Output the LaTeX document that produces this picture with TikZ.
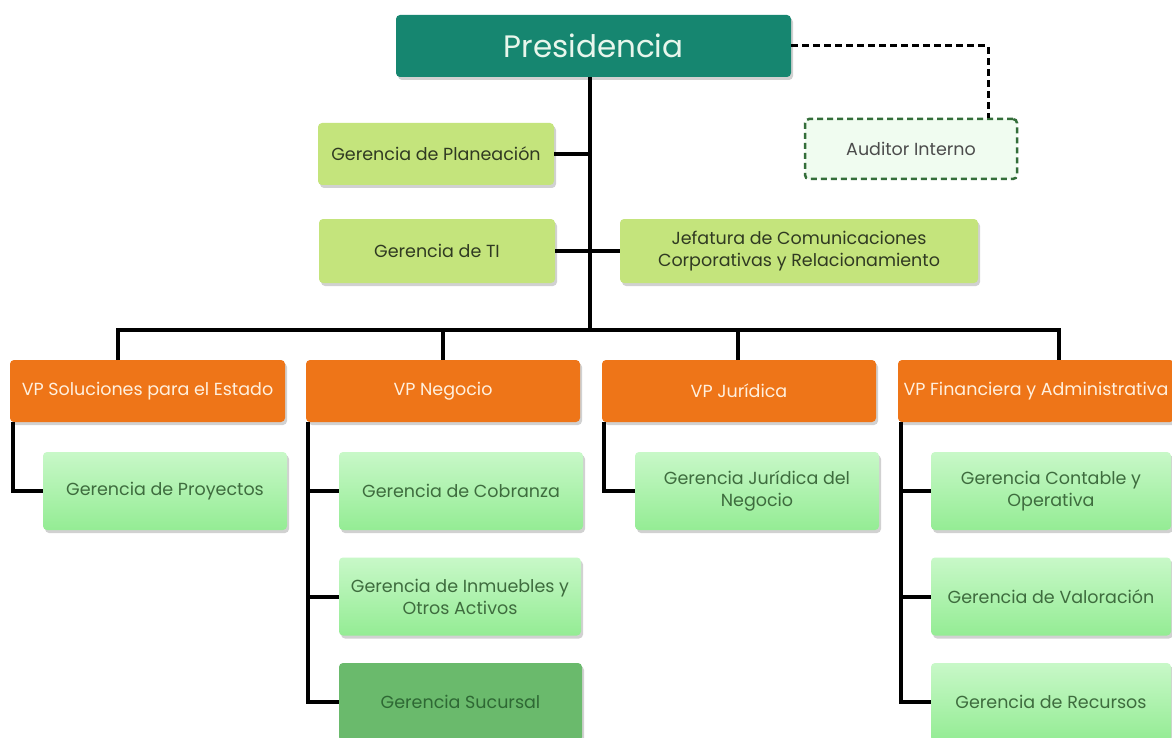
\documentclass[tikz,border=0pt]{standalone}
\usepackage{fontspec}
\setmainfont{Poppins}
\usetikzlibrary{shadows}
\definecolor{presfill}{RGB}{22,134,112}
\definecolor{prestext}{RGB}{232,246,236}
\definecolor{stafffill}{RGB}{196,228,124}
\definecolor{stafftext}{RGB}{48,58,34}
\definecolor{audfill}{RGB}{240,252,240}
\definecolor{auddraw}{RGB}{52,110,58}
\definecolor{vpfill}{RGB}{238,117,24}
\definecolor{vptext}{RGB}{255,240,222}
\definecolor{subtop}{RGB}{200,248,200}
\definecolor{subbot}{RGB}{148,236,148}
\definecolor{subtext}{RGB}{62,108,62}
\definecolor{sucfill}{RGB}{106,186,108}
\definecolor{suctext}{RGB}{46,104,52}
\tikzset{
  lbl/.style={font=\fontsize{17.5}{22}\selectfont},
  box/.style={rounded corners=4pt, inner sep=1pt, align=center, lbl,
    drop shadow={shadow xshift=2pt, shadow yshift=-3pt, opacity=0.18, fill=black}},
  presbox/.style={box, fill=presfill, text=prestext, font=\fontsize{31}{36}\selectfont},
  staffbox/.style={box, fill=stafffill, text=stafftext},
  audbox/.style={rounded corners=4pt, fill=audfill, draw=auddraw, line width=2.5pt, dash pattern=on 6pt off 4pt, text=black!70, lbl, align=center},
  vpbox/.style={box, fill=vpfill, text=vptext},
  subbox/.style={box, top color=subtop, bottom color=subbot, text=subtext},
  sucbox/.style={box, fill=sucfill, text=suctext},
  conn/.style={line width=4pt, black},
  dashconn/.style={line width=3pt, black, dash pattern=on 7pt off 4pt},
}
\begin{document}
\begin{tikzpicture}[x=1pt,y=-1pt]
\useasboundingbox[fill=white] (0,0) rectangle (1172,738);
% top
\node[presbox, minimum width=395pt, minimum height=62pt] (pres) at (593.5,46) {Presidencia};
\node[audbox, minimum width=212pt, minimum height=60pt] (aud) at (911,149) {Auditor Interno};
\node[staffbox, minimum width=236pt, minimum height=62pt] (plan) at (436,154) {Gerencia de Planeación};
\node[staffbox, minimum width=236pt, minimum height=64pt] (ti) at (437,251) {Gerencia de TI};
\node[staffbox, minimum width=358pt, minimum height=64pt] (jef) at (799,251) {Jefatura de Comunicaciones\\Corporativas y Relacionamiento};
% VPs
\node[vpbox, minimum width=275pt, minimum height=62pt] (sol) at (147.5,391) {VP Soluciones para el Estado};
\node[vpbox, minimum width=274pt, minimum height=62pt] (neg) at (443,391) {VP Negocio};
\node[vpbox, minimum width=274pt, minimum height=62pt] (jur) at (739,391) {VP Jurídica};
\node[vpbox, minimum width=276pt, minimum height=62pt] (fin) at (1036,391) {VP Financiera y Administrativa};
% subordinates
\node[subbox, minimum width=244pt, minimum height=78pt] (proy) at (165,491) {Gerencia de Proyectos};
\node[subbox, minimum width=244pt, minimum height=78pt] (cob) at (461,491) {Gerencia de Cobranza};
\node[subbox, minimum width=242pt, minimum height=78pt] (inm) at (460,596.5) {Gerencia de Inmuebles y\\Otros Activos};
\node[sucbox, minimum width=243pt, minimum height=78pt] (suc) at (460.5,702) {Gerencia Sucursal};
\node[subbox, minimum width=244pt, minimum height=78pt] (jneg) at (757,491) {Gerencia Jurídica del\\Negocio};
\node[subbox, minimum width=240pt, minimum height=78pt] (cont) at (1051,491) {Gerencia Contable y\\Operativa};
\node[subbox, minimum width=240pt, minimum height=78pt] (val) at (1051,596.5) {Gerencia de Valoración};
\node[subbox, minimum width=240pt, minimum height=78pt] (rec) at (1051,702) {Gerencia de Recursos};
% coordinates
\coordinate (hub) at (590,330);
\coordinate (dSol) at (118,330);
\coordinate (dNeg) at (443,330);
\coordinate (dJur) at (738,330);
\coordinate (dFin) at (1059,330);
\coordinate (lSol) at (13,0);
\coordinate (lNeg) at (308,0);
\coordinate (lJur) at (604,0);
\coordinate (lFin) at (901,0);
\coordinate (dAud) at (988,0);
% connectors
\draw[dashconn] (pres.east) -| (dAud |- aud.north);
\draw[conn] (pres.south -| hub) -- (hub);
\draw[conn] (plan.east) -- (plan.east -| hub);
\draw[conn] (ti.east) -- (jef.west);
\draw[conn] (dSol |- sol.north) -- (dSol) -- (dFin) -- (dFin |- fin.north);
\draw[conn] (dNeg) -- (dNeg |- neg.north);
\draw[conn] (dJur) -- (dJur |- jur.north);
\draw[conn] (lSol |- sol.south) |- (proy.west);
\draw[conn] (lNeg |- neg.south) |- (suc.west);
\draw[conn] (lNeg |- cob.west) -- (cob.west);
\draw[conn] (lNeg |- inm.west) -- (inm.west);
\draw[conn] (lJur |- jur.south) |- (jneg.west);
\draw[conn] (lFin |- fin.south) |- (rec.west);
\draw[conn] (lFin |- cont.west) -- (cont.west);
\draw[conn] (lFin |- val.west) -- (val.west);
\end{tikzpicture}
\end{document}
